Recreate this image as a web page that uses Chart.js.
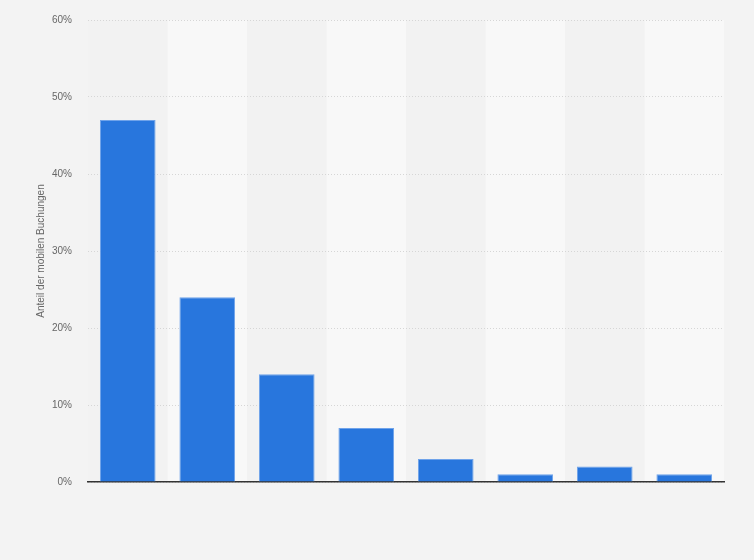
<!DOCTYPE html>
<html>
<head>
<meta charset="utf-8">
<script src="https://cdn.jsdelivr.net/npm/chart.js@4/dist/chart.umd.min.js"></script>
<style>
html,body{margin:0;padding:0;background:#f3f3f3;}
#wrap{width:754px;height:560px;position:relative;}
</style>
</head>
<body>
<div id="wrap"><canvas id="c" width="754" height="560"></canvas></div>
<script>
const categories = ["1","2","3","4","5","6","7","8"];
const values = [47, 24, 14, 7, 3, 1, 2, 1];
const yTicks = [0, 10, 20, 30, 40, 50, 60];
const yTitle = "Anteil der mobilen Buchungen";

const stripes = {
  id: 'stripes',
  beforeDraw(chart) {
    const {ctx, chartArea, scales} = chart;
    const x = scales.x;
    const n = categories.length;
    const w = (chartArea.right - chartArea.left) / n;
    ctx.save();
    for (let i = 0; i < n; i++) {
      const cx = x.getPixelForValue(i);
      ctx.fillStyle = (i % 2 === 1) ? '#f8f8f8' : '#f2f2f2';
      ctx.fillRect(cx - w / 2, chartArea.top, w, chartArea.bottom - chartArea.top);
    }
    ctx.restore();
  }
};

new Chart(document.getElementById('c'), {
  type: 'bar',
  data: {
    labels: categories,
    datasets: [{
      data: values,
      backgroundColor: '#2876dd',
      borderColor: '#6fa3ea',
      borderWidth: {top:1,left:1,right:1,bottom:0},
      categoryPercentage: 1,
      barPercentage: 0.7
    }]
  },
  options: {
    responsive: false,
    animation: false,
    devicePixelRatio: 1,
    layout: {padding: {left: 0, right: 30, top: 20, bottom: 78}},
    plugins: {legend: {display: false}, tooltip: {enabled: false}},
    scales: {
      x: {
        display: true,
        ticks: {display: false},
        grid: {display: false, drawTicks: false},
        border: {display: true, color: '#333333', width: 1.5}
      },
      y: {
        min: 0, max: 60,
        afterBuildTicks(axis) { axis.ticks = yTicks.map(v => ({value: v})); },
        afterFit(axis) { axis.width = 88; axis.paddingTop = 0; },
        ticks: {
          color: '#666666',
          padding: 16,
          font: {family: '"Liberation Sans", Arial, sans-serif', size: 10},
          callback: v => v + '%'
        },
        grid: {color: '#d6d6d6', drawTicks: false, lineWidth: 1},
        border: {display: false, dash: [1, 2]},
        title: {
          display: true,
          text: yTitle,
          color: '#666666',
          padding: {top: 35, bottom: 0},
          font: {family: '"Liberation Sans", Arial, sans-serif', size: 10}
        }
      }
    }
  },
  plugins: [stripes]
});
</script>
</body>
</html>
